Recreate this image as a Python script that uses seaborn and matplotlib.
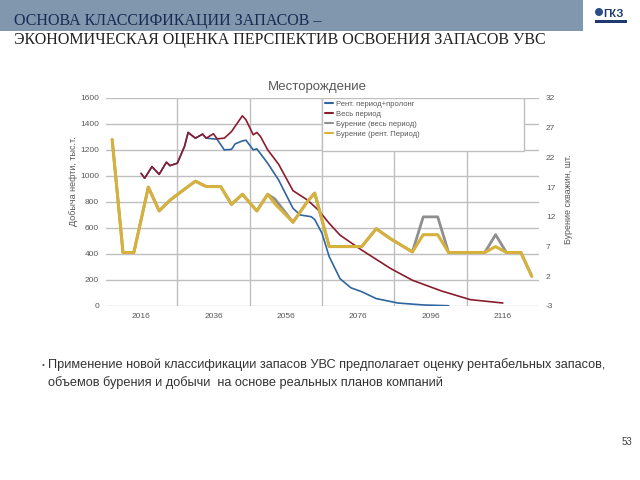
import matplotlib
matplotlib.use('Agg')
import matplotlib.pyplot as plt
import seaborn as sns
from matplotlib.patches import Rectangle, Ellipse
from matplotlib.lines import Line2D

# production, thousand tonnes (left axis)
years_rent = [2016, 2017, 2019, 2021, 2023, 2024, 2026, 2028, 2029, 2031, 2033, 2034,
              2037, 2039, 2041, 2042, 2044, 2045, 2047, 2048, 2051, 2054, 2058, 2060,
              2063, 2064, 2066, 2068, 2071, 2074, 2077, 2081, 2087, 2094, 2101]
prod_rent = [1020, 983, 1072, 1013, 1106, 1080, 1098, 1227, 1335, 1291, 1322, 1291,
             1283, 1201, 1205, 1247, 1270, 1275, 1201, 1209, 1098, 970, 751, 700,
             687, 665, 560, 380, 210, 140, 110, 57, 23, 8, 2]

years_full = [2016, 2017, 2019, 2021, 2023, 2024, 2026, 2028, 2029, 2031, 2033, 2034,
              2036, 2037, 2039, 2041, 2044, 2045, 2047, 2048, 2049, 2051, 2054, 2058,
              2062, 2065, 2068, 2071, 2077, 2085, 2091, 2099, 2107, 2116]
prod_full = [1020, 983, 1072, 1013, 1106, 1080, 1098, 1227, 1335, 1291, 1322, 1291,
             1325, 1286, 1291, 1342, 1463, 1432, 1317, 1335, 1304, 1201, 1091, 887,
             815, 738, 636, 545, 430, 288, 198, 116, 49, 23]

# drilling, wells (right axis)
years_drill = [2008, 2011, 2014, 2018, 2021, 2024, 2027, 2029, 2031, 2034, 2038, 2041,
               2044, 2048, 2051, 2053, 2058, 2062, 2064, 2068, 2077, 2081, 2085, 2091,
               2094, 2098, 2101, 2111, 2114, 2117, 2121, 2124]
drill_full = [25, 6, 6, 17, 13, 14.8, 16.2, 17.1, 18, 17.1, 17.1, 14.1,
              15.8, 13, 15.8, 15, 11.1, 14.6, 16, 7, 7, 10, 8.3, 6.1,
              12, 12, 6, 6, 9, 6, 6, 2]
drill_rent = [25, 6, 6, 17, 13, 14.8, 16.2, 17.1, 18, 17.1, 17.1, 14.1,
              15.8, 13, 15.8, 14.2, 11.1, 14.6, 16, 7, 7, 10, 8.3, 6.1,
              9, 9, 6, 6, 7, 6, 6, 2]

series_labels = ['Рент. период+пролонг', 'Весь период',
                 'Бурение (весь период)', 'Бурение (рент. Период)']
series_colors = ['#2f65a0', '#8a1c2e', '#8f8f8f', '#d6b23c']

left_ticks = list(range(0, 1601, 200))
right_ticks = list(range(-3, 33, 5))
year_ticks = list(range(2016, 2117, 20))
grid_years = list(range(2026, 2107, 20))

sns.set_theme(style='white')
plt.rcParams['font.family'] = ['Liberation Sans', 'DejaVu Sans']
plt.rcParams['axes.unicode_minus'] = False

fig = plt.figure(figsize=(6.4, 4.8), dpi=100)
W, H = 640, 480

# header bar and titles
fig.add_artist(Rectangle((0, 1 - 31 / H), 583 / W, 31 / H, transform=fig.transFigure,
                         facecolor='#8097ad', edgecolor='none', zorder=0))
fig.text(14 / W, 1 - 25 / H, 'ОСНОВА КЛАССИФИКАЦИИ ЗАПАСОВ –', family='Liberation Serif',
         fontsize=11.5, color='#1b2a55', va='baseline')
fig.text(14 / W, 1 - 44 / H, 'ЭКОНОМИЧЕСКАЯ ОЦЕНКА ПЕРСПЕКТИВ ОСВОЕНИЯ ЗАПАСОВ УВС',
         family='Liberation Serif', fontsize=11.5, color='#222222', va='baseline')

# logo
fig.add_artist(Ellipse((599 / W, 1 - 12 / H), 8 / W, 8 / H, transform=fig.transFigure,
                       facecolor='#2a4f86', edgecolor='none'))
fig.text(603 / W, 1 - 17 / H, 'ГКЗ', fontsize=8, fontweight='bold', color='#1f3a6e',
         va='baseline')
fig.add_artist(Rectangle((595 / W, 1 - 23 / H), 32 / W, 3 / H, transform=fig.transFigure,
                         facecolor='#1f3a6e', edgecolor='none'))

# chart
ax = fig.add_axes([106 / W, 1 - 306 / H, 433 / W, 208 / H])
ax2 = ax.twinx()

sns.lineplot(x=years_rent, y=prod_rent, ax=ax, color=series_colors[0], linewidth=1.2)
sns.lineplot(x=years_full, y=prod_full, ax=ax, color=series_colors[1], linewidth=1.2)
sns.lineplot(x=years_drill, y=drill_full, ax=ax2, color=series_colors[2], linewidth=2.0)
sns.lineplot(x=years_drill, y=drill_rent, ax=ax2, color=series_colors[3], linewidth=2.2)

ax.set_xlim(2006.3, 2126)
ax.set_ylim(0, 1600)
ax2.set_ylim(-3, 32)
ax.set_yticks(left_ticks)
ax2.set_yticks(right_ticks)
ax.set_xticks(year_ticks)
ax.set_xticks(grid_years, minor=True)

ax.grid(False)
ax2.grid(False)
ax.yaxis.grid(True, which='major', color='#bfbfbf', linewidth=1)
ax.xaxis.grid(True, which='minor', color='#bfbfbf', linewidth=1)
ax.set_axisbelow(True)

for a in (ax, ax2):
    for s in a.spines.values():
        s.set_visible(False)
    a.tick_params(axis='both', which='both', length=0, labelsize=6, colors='#595959', pad=5)

ax.set_ylabel('Добыча нефти, тыс.т.', fontsize=6.5, color='#595959')
ax.yaxis.set_label_coords(-0.065, 0.60)
ax2.set_ylabel('Бурение скважин, шт.', fontsize=6.5, color='#595959', rotation=90)
ax2.yaxis.set_label_coords(1.058, 0.515)

fig.text(317 / W, 1 - 87 / H, 'Месторождение', ha='center', va='center', fontsize=9.5,
         color='#595959')

# legend box
ax2.add_patch(Rectangle((0.499, 0.745), 0.466, 0.255, transform=ax2.transAxes,
                        facecolor='white', edgecolor='#bfbfbf', linewidth=1, zorder=4))
handles = [Line2D([], [], color=c, linewidth=1.5) for c in series_colors]
leg = ax2.legend(handles, series_labels, loc='upper left', bbox_to_anchor=(0.495, 1.01),
                 frameon=False, fontsize=5.5, handlelength=1.1, handletextpad=0.4,
                 labelspacing=0.35, borderaxespad=0.2, labelcolor='#595959')
leg.set_zorder(5)

# bullet text
fig.text(42 / W, 1 - 367 / H, '•', fontsize=6, color='#555555', va='baseline')
fig.text(48 / W, 1 - 368 / H,
         'Применение новой классификации запасов УВС предполагает оценку рентабельных запасов,',
         fontsize=9.2, color='#333333', va='baseline')
fig.text(48 / W, 1 - 386 / H,
         'объемов бурения и добычи  на основе реальных планов компаний',
         fontsize=9.2, color='#333333', va='baseline')

fig.text(622 / W, 1 - 445 / H, '53', fontsize=7, color='#404040', va='baseline')

fig.savefig('out.png', dpi=100)
